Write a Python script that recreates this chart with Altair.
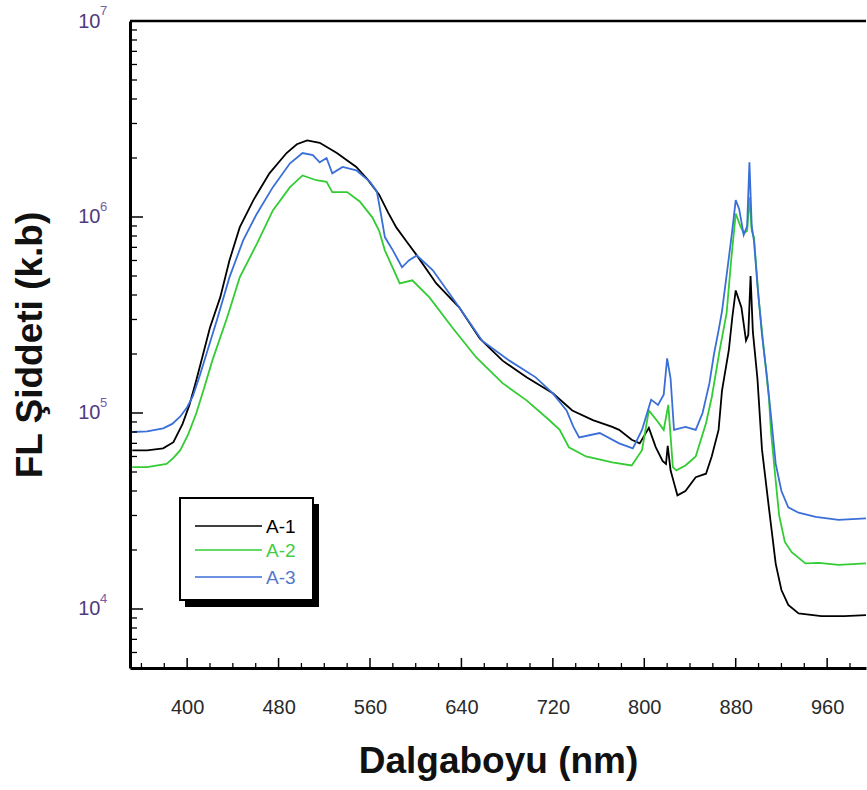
import altair as alt
import pandas as pd

# ---------------- data ----------------
series = ["A-1", "A-2", "A-3"]
colors = ["#000000", "#33cc33", "#3a6fd8"]

a1_nm = [352, 365, 379, 388, 396, 402, 408, 414, 420, 429, 437, 446, 458, 472, 487, 496, 505, 516,
         531, 548, 558, 568, 576, 583, 592, 601, 618, 638, 656, 676, 697, 720, 737, 755, 772, 778,
         789, 796, 804, 810, 816, 819, 820.5, 823, 826, 829, 836, 845, 854, 859, 865, 868, 874, 877,
         880, 885, 889, 891, 893, 895, 899, 903, 909, 915, 920, 926, 935, 955, 975, 994]
a1_val = [6.45e4, 6.45e4, 6.6e4, 7.1e4, 8.8e4, 1.1e5, 1.47e5, 2.0e5, 2.73e5, 3.9e5, 6.0e5, 8.85e5,
          1.22e6, 1.67e6, 2.12e6, 2.35e6, 2.46e6, 2.39e6, 2.12e6, 1.80e6, 1.55e6, 1.30e6, 1.05e6,
          8.85e5, 7.5e5, 6.37e5, 4.58e5, 3.46e5, 2.4e5, 1.85e5, 1.52e5, 1.26e5, 1.03e5, 9.2e4,
          8.5e4, 8.2e4, 7.3e4, 7.0e4, 8.4e4, 6.7e4, 5.7e4, 5.5e4, 6.8e4, 5.1e4, 4.4e4, 3.8e4,
          4.0e4, 4.7e4, 4.9e4, 6.0e4, 8.2e4, 1.3e5, 2.1e5, 3.07e5, 4.22e5, 3.46e5, 2.34e5, 2.5e5,
          5.0e5, 2.6e5, 1.5e5, 6.5e4, 3.3e4, 1.7e4, 1.25e4, 1.05e4, 9.5e3, 9.2e3, 9.2e3, 9.3e3]

a2_nm = [352, 365, 382, 388, 394, 401, 408, 415, 422, 435, 446, 461, 475, 490, 501, 513, 522, 527,
         540, 551, 562, 568, 573, 586, 597, 612, 632, 653, 676, 697, 717, 726, 734, 749, 772, 789,
         798, 804, 812, 817, 821, 825, 828, 836, 845, 854, 859, 863, 866, 872, 876, 880, 884, 887,
         890, 892, 894, 896, 900, 905, 909, 911, 915, 918, 923, 929, 941, 953, 970, 994]
a2_val = [5.3e4, 5.3e4, 5.5e4, 5.9e4, 6.46e4, 7.8e4, 9.97e4, 1.35e5, 1.85e5, 3.07e5, 4.92e5, 7.3e5,
          1.08e6, 1.42e6, 1.63e6, 1.54e6, 1.51e6, 1.34e6, 1.34e6, 1.2e6, 9.96e5, 8.5e5, 6.76e5,
          4.58e5, 4.75e5, 3.89e5, 2.73e5, 1.92e5, 1.42e5, 1.16e5, 9.18e4, 8.2e4, 6.69e4, 6.0e4,
          5.6e4, 5.4e4, 6.46e4, 1.03e5, 9.0e4, 8.2e4, 1.1e5, 5.3e4, 5.1e4, 5.4e4, 6.0e4, 8.86e4,
          1.2e5, 1.65e5, 2.1e5, 3.22e5, 6.0e5, 1.04e6, 9.0e5, 8.26e5, 8.5e5, 1.26e6, 8.5e5, 7.87e5,
          3.89e5, 2.0e5, 1.2e5, 7.9e4, 4.5e4, 3.0e4, 2.2e4, 1.95e4, 1.71e4, 1.72e4, 1.68e4, 1.71e4]

a3_nm = [352, 365, 379, 387, 394, 400, 405, 411, 417, 426, 437, 449, 461, 475, 490, 501, 510, 516,
         522, 527, 536, 548, 560, 566, 570, 573, 580, 588, 594, 601, 615, 638, 658, 682, 705, 720,
         732, 738, 743, 761, 778, 790, 798, 806, 812, 817, 820, 823, 826, 836, 845, 851, 857, 861,
         865, 868, 874, 877, 880, 883, 887, 890, 892, 894, 896, 899, 903, 907, 911, 915, 920, 926,
         935, 950, 970, 994]
a3_val = [8.0e4, 8.05e4, 8.35e4, 8.8e4, 9.6e4, 1.07e5, 1.22e5, 1.55e5, 2.01e5, 2.97e5, 4.92e5, 7.6e5,
          1.04e6, 1.42e6, 1.88e6, 2.12e6, 2.07e6, 1.90e6, 2.0e6, 1.67e6, 1.80e6, 1.73e6, 1.51e6,
          1.35e6, 1.0e6, 7.9e5, 6.76e5, 5.54e5, 6.0e5, 6.37e5, 5.35e5, 3.46e5, 2.34e5, 1.85e5,
          1.52e5, 1.26e5, 1.03e5, 8.5e4, 7.5e4, 7.9e4, 7.0e4, 6.6e4, 8.2e4, 1.17e5, 1.1e5, 1.24e5,
          1.9e5, 1.5e5, 8.2e4, 8.5e4, 8.2e4, 1.0e5, 1.42e5, 2.0e5, 2.64e5, 3.3e5, 6.2e5, 8.55e5,
          1.22e6, 1.1e6, 8.1e5, 9.0e5, 1.9e6, 9.0e5, 7.5e5, 4.5e5, 2.5e5, 1.6e5, 9.5e4, 5.5e4,
          4.0e4, 3.3e4, 3.1e4, 2.95e4, 2.85e4, 2.9e4]

x_major = [400, 480, 560, 640, 720, 800, 880, 960]
x_minor = [360, 380, 420, 440, 460, 500, 520, 540, 580, 600, 620, 660, 680, 700, 740, 760, 780,
           820, 840, 860, 900, 920, 940, 980]
y_major = [1e4, 1e5, 1e6, 1e7]
y_exp = ["4", "5", "6", "7"]
y_minor = [6e3, 7e3, 8e3, 9e3,
           2e4, 3e4, 4e4, 5e4, 6e4, 7e4, 8e4, 9e4,
           2e5, 3e5, 4e5, 5e5, 6e5, 7e5, 8e5, 9e5,
           2e6, 3e6, 4e6, 5e6, 6e6, 7e6, 8e6, 9e6]

# ---------------- build tables ----------------
rows = []
for name, xs, ys in [("A-1", a1_nm, a1_val), ("A-2", a2_nm, a2_val), ("A-3", a3_nm, a3_val)]:
    for xv, yv in zip(xs, ys):
        rows.append({"series": name, "nm": xv, "val": yv})
df = pd.DataFrame(rows)

W, H = 736, 647
XDOM = [350, 994]
YDOM = [5000, 1e7]
FONT = "Liberation Sans"
PURPLE = "#4e3a7c"

xscale = alt.Scale(domain=XDOM, nice=False, zero=False)
yscale = alt.Scale(type="log", domain=YDOM, nice=False)

lines = alt.Chart(df).mark_line(strokeWidth=1.8, clip=True).encode(
    x=alt.X("nm:Q", scale=xscale,
            axis=alt.Axis(values=x_major, ticks=False, tickSize=0, grid=False,
                          labelFontSize=20, labelFont=FONT, labelColor="#2a2a2a",
                          labelPadding=29, labelFlush=False,
                          domainColor="#000000", domainWidth=3,
                          title="Dalgaboyu (nm)", titleFontSize=37, titleFont=FONT,
                          titleFontWeight="bold", titleColor="#111111", titlePadding=26)),
    y=alt.Y("val:Q", scale=yscale,
            axis=alt.Axis(values=y_major, labelExpr="'10'", ticks=False, tickSize=0, grid=False,
                          labelFontSize=20, labelFont=FONT, labelColor=PURPLE,
                          labelPadding=30, labelFlush=False,
                          domainColor="#000000", domainWidth=3,
                          title="FL Şiddeti (k.b)", titleFontSize=37, titleFont=FONT,
                          titleFontWeight="bold", titleColor="#111111", titlePadding=28)),
    color=alt.Color("series:N", scale=alt.Scale(domain=series, range=colors), legend=None),
    order=alt.Order("series:N"),
)

# exponents of the y labels
exp_df = pd.DataFrame({"v": y_major, "e": y_exp})
exps = alt.Chart(exp_df).mark_text(align="left", baseline="middle", fontSize=13, font=FONT,
                                   color="#7a5aa8", dy=-10).encode(
    y=alt.Y("v:Q", scale=yscale), x=alt.value(-30), text="e:N")

# inward ticks
ymaj = alt.Chart(pd.DataFrame({"v": y_major})).mark_rule(color="black", strokeWidth=1.5).encode(
    y=alt.Y("v:Q", scale=yscale), x=alt.value(0), x2=alt.value(13))
ymin = alt.Chart(pd.DataFrame({"v": y_minor})).mark_rule(color="black", strokeWidth=1.3).encode(
    y=alt.Y("v:Q", scale=yscale), x=alt.value(0), x2=alt.value(7))
xmaj = alt.Chart(pd.DataFrame({"v": x_major})).mark_rule(color="black", strokeWidth=1.5).encode(
    x=alt.X("v:Q", scale=xscale), y=alt.value(H), y2=alt.value(H - 10))
xmin = alt.Chart(pd.DataFrame({"v": x_minor})).mark_rule(color="black", strokeWidth=1.3).encode(
    x=alt.X("v:Q", scale=xscale), y=alt.value(H), y2=alt.value(H - 5))

one = pd.DataFrame({"k": [0]})
top_border = alt.Chart(one).mark_rule(color="black", strokeWidth=2.5).encode(
    x=alt.value(0), x2=alt.value(W), y=alt.value(0))

# legend box with drop shadow
shadow = alt.Chart(one).mark_rect(color="black").encode(
    x=alt.value(55), x2=alt.value(189), y=alt.value(483), y2=alt.value(586))
box = alt.Chart(one).mark_rect(fill="white", stroke="black", strokeWidth=2).encode(
    x=alt.value(50), x2=alt.value(183), y=alt.value(477), y2=alt.value(579))

legend_layers = []
label_colors = ["#000000", "#44cc44", "#5577cc"]
rows_y = [505, 529, 556]
for name, c, lc, yy in zip(series, colors, label_colors, rows_y):
    legend_layers.append(alt.Chart(one).mark_rule(color=c, strokeWidth=1.6).encode(
        x=alt.value(65), x2=alt.value(132), y=alt.value(yy)))
    legend_layers.append(alt.Chart(one).mark_text(align="left", baseline="middle", fontSize=19,
                                                  font=FONT, color=lc, text=name).encode(
        x=alt.value(136), y=alt.value(yy + 1)))

chart = alt.layer(
    lines, exps, ymaj, ymin, xmaj, xmin, top_border, shadow, box, *legend_layers
).properties(
    width=W, height=H,
    autosize=alt.AutoSizeParams(type="none"),
    padding={"left": 130, "top": 21, "right": 1, "bottom": 122},
    background="white",
).configure_view(stroke=None)

chart.save("out.html", embed_options={"renderer": "svg", "actions": False})
